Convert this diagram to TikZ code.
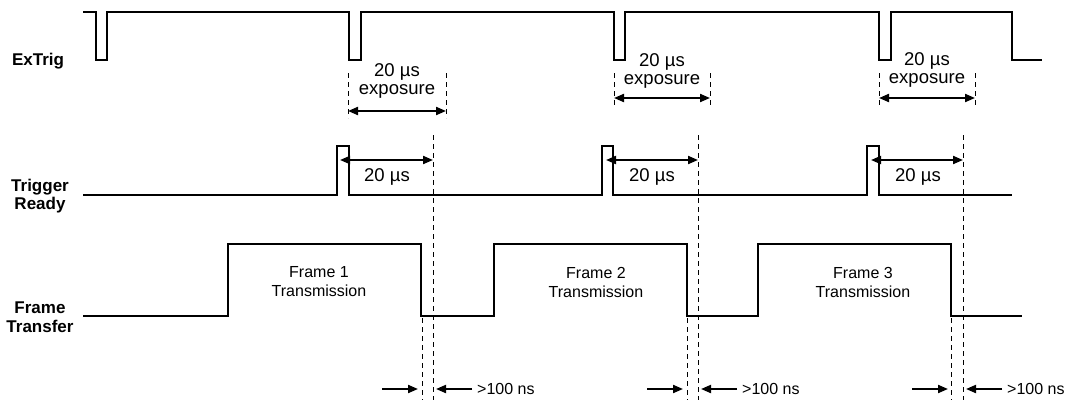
\documentclass[tikz,border=0pt]{standalone}
\usepackage{fontspec}
\setmainfont{Liberation Sans}
\usetikzlibrary{arrows.meta}
\begin{document}
\begin{tikzpicture}[x=1pt,y=-1pt,
  sig/.style={line width=2.2pt,line join=miter},
  guide/.style={line width=1pt,dash pattern=on 5pt off 4pt},
  dim/.style={line width=2pt,{Triangle[length=10pt,width=8pt]}-{Triangle[length=10pt,width=8pt]}},
  rarr/.style={line width=2pt,-{Triangle[length=10pt,width=8pt]}},
  lbl/.style={font=\fontsize{17}{18.5}\selectfont\bfseries,align=center,inner sep=0pt},
  txt/.style={font=\fontsize{18.5}{18}\selectfont,align=center,inner sep=0pt},
  ftxt/.style={font=\fontsize{16}{19}\selectfont,align=center,inner sep=0pt},
  ntxt/.style={font=\fontsize{16}{16}\selectfont,inner sep=0pt,anchor=west}]
\useasboundingbox (0,0) rectangle (1069,400);

% labels
\node[lbl] (lext) at (38,61) {ExTrig};
\node[lbl] (ltr) at (40,196) {Trigger\\Ready};
\node[lbl] (lft) at (40,317) {Frame\\Transfer};

% ExTrig
\draw[sig] (83,12) -- (96,12) -- (96,60) -- (107,60) -- (107,12)
  -- (349,12) -- (349,60) -- (361,60) -- (361,12)
  -- (614,12) -- (614,60) -- (625,60) -- (625,12)
  -- (879,12) -- (879,60) -- (891,60) -- (891,12)
  -- (1012,12) -- (1012,60) -- (1042,60);

% Trigger Ready
\draw[sig] (83,195) -- (337,195) -- (337,146) -- (349,146) -- (349,195)
  -- (602,195) -- (602,146) -- (613,146) -- (613,195)
  -- (867,195) -- (867,146) -- (879,146) -- (879,195) -- (1012,195);

% Frame Transfer
\draw[sig] (83,316) -- (228,316) -- (228,244) -- (421,244) -- (421,316)
  -- (494,316) -- (494,244) -- (687,244) -- (687,316)
  -- (758,316) -- (758,244) -- (951,244) -- (951,316) -- (1022,316);

% frame texts
\node[ftxt] (f1) at (319,282) {Frame 1\\Transmission};
\node[ftxt] (f2) at (596,282) {Frame 2\\Transmission};
\node[ftxt] (f3) at (863,282) {Frame 3\\Transmission};

% exposure markers
\coordinate (e1a) at (348,111); \coordinate (e1b) at (446,111);
\draw[guide] (348,73) -- (348,118);
\draw[guide] (446,73) -- (446,118);
\draw[dim] (e1a) -- (e1b);
\node[txt] (x1) at (397,81) {20 µs\\exposure};

\coordinate (e2a) at (614,98); \coordinate (e2b) at (710,98);
\draw[guide] (614,73) -- (614,108);
\draw[guide] (710,73) -- (710,108);
\draw[dim] (e2a) -- (e2b);
\node[txt] (x2) at (662,71) {20 µs\\exposure};

\coordinate (e3a) at (879,98); \coordinate (e3b) at (975,98);
\draw[guide] (879,73) -- (879,108);
\draw[guide] (975,73) -- (975,108);
\draw[dim] (e3a) -- (e3b);
\node[txt] (x3) at (927,70) {20 µs\\exposure};

% long guides
\foreach \gx in {433,698,963}{\draw[guide] (\gx,135) -- (\gx,400);}
\foreach \gx in {422,687,951}{\draw[guide] (\gx,318) -- (\gx,400);}

% trigger ready 20 us
\coordinate (t1a) at (340,160); \coordinate (t1b) at (433,160);
\draw[dim] (t1a) -- (t1b);
\node[txt] (r1) at (387,177) {20 µs};
\coordinate (t2a) at (606,160); \coordinate (t2b) at (698,160);
\draw[dim] (t2a) -- (t2b);
\node[txt] (r2) at (652,177) {20 µs};
\coordinate (t3a) at (871,160); \coordinate (t3b) at (963,160);
\draw[dim] (t3a) -- (t3b);
\node[txt] (r3) at (918,177) {20 µs};

% >100 ns
\foreach \ax in {0,265,530}{
  \draw[rarr] (382+\ax,389) -- (418+\ax,389);
  \draw[rarr] (472+\ax,389) -- (436+\ax,389);
  \node[ntxt] at (477+\ax,389) {>100 ns};
}
\end{tikzpicture}
\end{document}
